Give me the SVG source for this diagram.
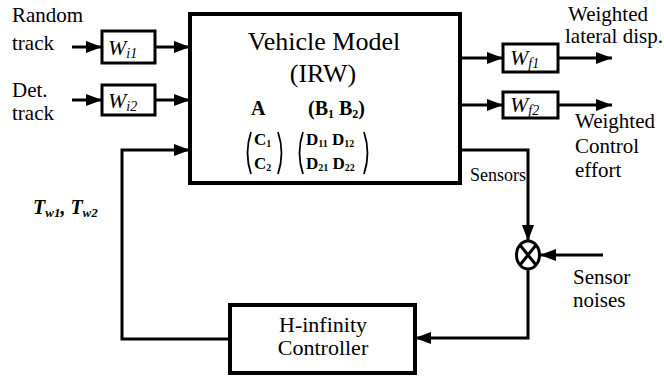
<svg xmlns="http://www.w3.org/2000/svg" width="664" height="380" viewBox="0 0 664 380" font-family="'Liberation Serif', 'DejaVu Serif', serif">
<style>
text{font-family:'Liberation Serif','DejaVu Serif',serif;fill:#000}
.lbl{font-size:21px}
.box{fill:#fff;stroke:#000;stroke-width:3}
.bbox{fill:#fff;stroke:#000;stroke-width:4}
.ln{fill:none;stroke:#000;stroke-width:3}
.w{font-size:22px;font-style:italic}
.sub{font-size:14px;font-style:italic}
.m{font-weight:bold}
.par{fill:none;stroke:#000;stroke-width:1.8}
</style>
<defs>
<marker id="ah" viewBox="0 0 16 12" refX="16" refY="6" markerWidth="16" markerHeight="12" markerUnits="userSpaceOnUse" orient="auto">
<path d="M0,0 L16,6 L0,12 z" fill="#000"/>
</marker>
</defs>
<g id="connectors">
<line class="ln" x1="72" y1="47" x2="102" y2="47" marker-end="url(#ah)"/>
<line class="ln" x1="155" y1="47" x2="190" y2="47" marker-end="url(#ah)"/>
<line class="ln" x1="72" y1="100" x2="102" y2="100" marker-end="url(#ah)"/>
<line class="ln" x1="155" y1="100" x2="190" y2="100" marker-end="url(#ah)"/>
<line class="ln" x1="460" y1="58" x2="503" y2="58" marker-end="url(#ah)"/>
<line class="ln" x1="558" y1="58" x2="612" y2="58" marker-end="url(#ah)"/>
<line class="ln" x1="460" y1="105" x2="503" y2="105" marker-end="url(#ah)"/>
<line class="ln" x1="558" y1="105" x2="612" y2="105" marker-end="url(#ah)"/>
<path class="ln" d="M460,150 H528 V241" marker-end="url(#ah)"/>
<line class="ln" x1="603" y1="255" x2="540" y2="255" marker-end="url(#ah)"/>
<path class="ln" d="M528,269 V338 H415" marker-end="url(#ah)"/>
<path class="ln" d="M230,339 H122 V150 H190" marker-end="url(#ah)"/>
</g>
<g id="vehicle">
<rect class="bbox" x="190" y="14" width="270" height="169"/>
<text x="324" y="50" font-size="26" text-anchor="middle">Vehicle Model</text>
<text x="323" y="82" font-size="26" text-anchor="middle">(IRW)</text>
<text class="m" x="251" y="115" font-size="20">A</text>
<text class="m" x="308" y="115" font-size="20">(B<tspan font-size="12" dy="3">1</tspan><tspan dy="-3"> B</tspan><tspan font-size="12" dy="3">2</tspan><tspan dy="-3">)</tspan></text>
<path class="par" d="M251,132 Q244,153 251,174"/>
<path class="par" d="M278,132 Q285,153 278,174"/>
<text class="m" x="254" y="145" font-size="17">C<tspan font-size="10" dy="2">1</tspan></text>
<text class="m" x="254" y="169" font-size="17">C<tspan font-size="10" dy="2">2</tspan></text>
<path class="par" d="M303,132 Q296,153 303,174"/>
<path class="par" d="M364,132 Q371,153 364,174"/>
<text class="m" x="306" y="145" font-size="17">D<tspan font-size="10" dy="2">11</tspan><tspan dy="-2"> D</tspan><tspan font-size="10" dy="2">12</tspan></text>
<text class="m" x="306" y="169" font-size="17">D<tspan font-size="10" dy="2">21</tspan><tspan dy="-2"> D</tspan><tspan font-size="10" dy="2">22</tspan></text>
</g>
<g id="wi1">
<rect class="box" x="102" y="31" width="53" height="32"/>
<text class="w" x="108" y="55">W<tspan class="sub" dy="3">i1</tspan></text>
</g>
<g id="wi2">
<rect class="box" x="102" y="85" width="53" height="30"/>
<text class="w" x="108" y="108">W<tspan class="sub" dy="3">i2</tspan></text>
</g>
<g id="wf1">
<rect class="box" x="503" y="44" width="55" height="28"/>
<text class="w" x="510" y="65">W<tspan class="sub" dy="3">f1</tspan></text>
</g>
<g id="wf2">
<rect class="box" x="503" y="92" width="55" height="26"/>
<text class="w" x="510" y="112">W<tspan class="sub" dy="3">f2</tspan></text>
</g>
<g id="summer">
<ellipse cx="528" cy="255" rx="11.5" ry="14" fill="#fff" stroke="#000" stroke-width="3"/>
<line class="ln" x1="520" y1="245" x2="536" y2="265"/>
<line class="ln" x1="536" y1="245" x2="520" y2="265"/>
</g>
<g id="controller">
<rect class="bbox" x="230" y="305" width="185" height="68"/>
<text x="323" y="332" font-size="22" text-anchor="middle">H-infinity</text>
<text x="323" y="355" font-size="22" text-anchor="middle">Controller</text>
</g>
<g id="labels">
<text class="lbl" x="12" y="22">Random</text>
<text class="lbl" x="12" y="50">track</text>
<text class="lbl" x="12" y="97">Det.</text>
<text class="lbl" x="12" y="120">track</text>
<text class="lbl" x="568" y="21">Weighted</text>
<text class="lbl" x="565" y="43">lateral disp.</text>
<text class="lbl" x="575" y="128">Weighted</text>
<text class="lbl" x="575" y="153">Control</text>
<text class="lbl" x="575" y="177">effort</text>
<text x="470" y="181" font-size="18">Sensors</text>
<text class="lbl" x="573" y="284">Sensor</text>
<text class="lbl" x="573" y="307">noises</text>
<text x="33" y="214" font-size="20" font-style="italic" font-weight="bold">T<tspan font-size="13" dy="3">w1</tspan><tspan dy="-3">, T</tspan><tspan font-size="13" dy="3">w2</tspan></text>
</g>
</svg>
